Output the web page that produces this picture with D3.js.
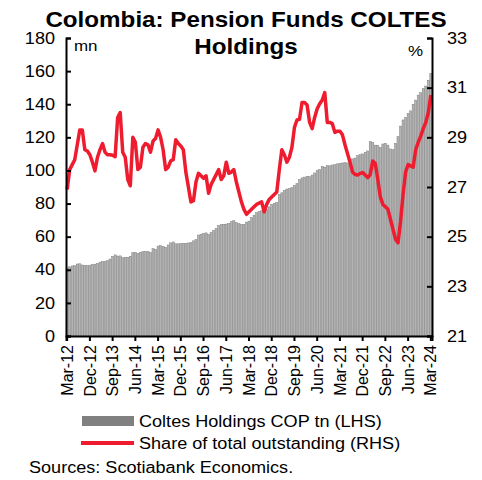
<!DOCTYPE html>
<html>
<head>
<meta charset="utf-8">
<script src="https://cdnjs.cloudflare.com/ajax/libs/d3/7.8.5/d3.min.js"></script>
<style>
  html, body { margin: 0; padding: 0; background: #fff; }
  svg { display: block; font-family: "Liberation Sans", Arial, sans-serif; }
</style>
</head>
<body>
<svg id="chart" width="482" height="480"></svg>
<script>
// Monthly observations, Mar-2012 through Mar-2024
const startYear = 2012, startMonth = 2; // March (0-based)

// Pension funds' COLTES holdings, COP tn (left axis)
const holdings = [
  41.0, 41.8, 42.3, 42.5, 43.5, 43.6, 42.9, 42.6, 42.5, 42.8,
  43.2, 43.4, 43.8, 44.6, 45.0, 45.0, 45.5, 46.5, 48.2, 49.0,
  48.3, 48.4, 47.3, 47.5, 47.6, 48.2, 50.3, 50.5, 49.9, 50.6,
  50.9, 51.0, 51.0, 50.5, 52.7, 52.3, 54.3, 54.6, 54.0, 53.6,
  55.0, 56.3, 56.8, 55.7, 55.7, 55.8, 56.0, 56.0, 56.2, 56.5,
  57.5, 58.2, 61.0, 61.5, 62.0, 62.3, 61.5, 62.5, 63.8, 65.0,
  66.8, 67.3, 67.5, 67.6, 68.0, 69.0, 69.6, 68.5, 67.8, 67.3,
  67.5, 68.8, 69.4, 71.5, 73.0, 74.5, 75.2, 75.6, 76.0, 76.5,
  78.0, 79.5, 80.2, 80.5, 85.5, 86.5, 88.0, 88.8, 89.0, 89.6,
  91.0, 92.0, 94.5, 95.5, 96.0, 96.5, 96.2, 97.2, 98.5, 100.0,
  100.5, 102.5, 102.0, 103.0, 102.8, 103.3, 103.5, 104.0, 104.3, 104.5,
  104.7, 104.5, 105.0, 107.0, 107.5, 109.0, 109.5, 110.0, 111.0, 111.8,
  117.4, 116.8, 115.3, 115.0, 113.9, 116.0, 116.4, 115.3, 113.0, 112.5,
  116.4, 120.4, 126.8, 130.5, 132.0, 134.5, 136.0, 140.0, 142.5, 145.5,
  147.0, 149.5, 151.0, 154.5, 158.6
];

// Share of total COLTES outstanding, % (right axis)
const share = [
  26.9, 27.7, 27.9, 28.1, 28.7, 29.3, 29.3, 28.5, 28.45, 28.3,
  28.0, 27.65, 28.2, 28.5, 28.75, 28.4, 28.3, 28.3, 28.28, 28.22,
  29.8, 30.0, 28.4, 28.2, 27.3, 27.05, 29.0, 28.8, 27.7, 27.8,
  28.6, 28.75, 28.7, 28.4, 28.85, 28.95, 29.3, 29.0, 28.5, 27.7,
  27.8, 28.05, 28.1, 28.9, 28.75, 28.65, 28.5, 27.6, 27.0, 26.4,
  26.45, 27.2, 27.55, 27.45, 27.35, 27.45, 26.75, 27.1, 27.3, 27.5,
  27.7, 27.3, 27.45, 28.0, 27.55, 27.6, 27.7, 27.2, 26.8, 26.4,
  26.1, 25.9, 26.0, 26.1, 26.2, 26.3, 26.35, 26.4, 26.0, 26.3,
  26.5, 26.6, 26.7, 26.8, 27.7, 28.5, 28.3, 28.0, 28.2, 28.6,
  29.4, 29.7, 29.73, 30.4, 30.4, 30.3, 29.6, 29.35, 29.8, 30.15,
  30.35, 30.5, 30.8, 29.6, 29.6, 29.55, 29.2, 29.25, 29.25, 29.1,
  28.7, 28.35, 28.0, 27.6, 27.5, 27.48, 27.55, 27.58, 27.48, 27.38,
  27.5, 28.05, 27.95, 27.3, 26.6, 26.3, 26.2, 26.1, 25.7, 25.3,
  24.9, 24.75, 25.6, 26.7, 27.6, 27.9, 27.85, 27.8, 28.5, 28.8,
  29.05, 29.35, 29.6, 30.0, 30.7
];

const leftTicks = [0, 20, 40, 60, 80, 100, 120, 140, 160, 180];
const rightTicks = [21, 23, 25, 27, 29, 31, 33];
const tickEvery = 9; // a date label every nine months

const monthNames = ["Jan","Feb","Mar","Apr","May","Jun","Jul","Aug","Sep","Oct","Nov","Dec"];
const labels = holdings.map((_, i) => {
  const m = startMonth + i;
  const y = startYear + Math.floor(m / 12);
  return monthNames[m % 12] + "-" + String(y).slice(2);
});
const xTickLabels = labels.filter((_, i) => i % tickEvery === 0);

const svg = d3.select("#chart");
const red = "#ee1c2e";
const sx = 1.13; // horizontal widening applied to the text glyphs
const W = 482, H = 480;
const plotL = 66, plotR = 432, plotT = 38, plotB = 336;

const x = d3.scaleBand().domain(labels).range([plotL, plotR]).paddingInner(0.18).paddingOuter(0.05);
const xc = d => x(d) + x.bandwidth() / 2;
const yL = d3.scaleLinear().domain([0, 180]).range([plotB, plotT]);
const yR = d3.scaleLinear().domain([21, 33]).range([plotB, plotT]);

// Place a text item with its glyphs widened horizontally
function label(parent, px, py, str, size, opts = {}) {
  const g = parent.append("g").attr("transform", `translate(${px},${py})`);
  const t = g.append("text")
    .attr("transform", `scale(${opts.scale || sx},1)`)
    .attr("text-anchor", opts.anchor || "start")
    .style("font-size", size + "px")
    .attr("fill", "#000")
    .text(str);
  if (opts.bold) t.style("font-weight", "bold");
  return t;
}

// Bars: holdings
svg.append("g").selectAll("rect").data(holdings).join("rect")
  .attr("x", (d, i) => x(labels[i]))
  .attr("y", d => yL(d))
  .attr("width", x.bandwidth())
  .attr("height", d => yL(0) - yL(d))
  .attr("fill", "#b3b3b3")
  .attr("stroke", "#7a7a7a")
  .attr("stroke-width", 0.45);

// Line: share of total outstanding
const line = d3.line().x((d, i) => xc(labels[i])).y(d => yR(d));
svg.append("path").datum(share)
  .attr("d", line)
  .attr("fill", "none")
  .attr("stroke", red)
  .attr("stroke-width", 3.5)
  .attr("stroke-linejoin", "round");

// Axes
const axL = svg.append("g").attr("transform", `translate(${plotL},0)`)
  .call(d3.axisLeft(yL).tickValues(leftTicks).tickSize(-5).tickPadding(11));
const axR = svg.append("g").attr("transform", `translate(${plotR},0)`)
  .call(d3.axisRight(yR).tickValues(rightTicks).tickSize(-5).tickPadding(15));
const axB = svg.append("g").attr("transform", `translate(0,${plotB})`)
  .call(d3.axisBottom(x).tickValues(xTickLabels).tickSize(5).tickPadding(4));

[axL, axR, axB].forEach(g => {
  g.select(".domain").attr("stroke", "#000").attr("stroke-width", 2);
  g.selectAll(".tick line").attr("stroke", "#000").attr("stroke-width", 2);
  g.selectAll("text").attr("fill", "#000").style("font-size", "16px")
    .style("font-family", "'Liberation Sans', Arial, sans-serif");
});
[axL, axR].forEach(g => {
  g.selectAll(".tick text").each(function () {
    const t = d3.select(this);
    t.attr("x", +t.attr("x") / sx).attr("transform", `scale(${sx},1)`);
  });
});
axB.selectAll(".tick text")
  .attr("transform", "rotate(-90)")
  .attr("text-anchor", "end")
  .attr("x", -9).attr("y", 0)
  .attr("dy", "0.35em");

// Unit labels
label(svg, 74, 51, "mn", 15);
label(svg, 408, 56, "%", 15);

// Title
label(svg, 246, 27, "Colombia: Pension Funds COLTES", 22, { anchor: "middle", bold: true, scale: 1.1 });
label(svg, 246, 54, "Holdings", 22, { anchor: "middle", bold: true, scale: 1.1 });

// Legend
svg.append("rect").attr("x", 82).attr("y", 416).attr("width", 52).attr("height", 10).attr("fill", "#808080");
label(svg, 139, 427, "Coltes Holdings COP tn (LHS)", 16);
svg.append("line").attr("x1", 81).attr("x2", 134).attr("y1", 443).attr("y2", 443)
  .attr("stroke", red).attr("stroke-width", 4);
label(svg, 139, 449, "Share of total outstanding (RHS)", 16);

// Source note
label(svg, 29, 473, "Sources: Scotiabank Economics.", 16);
</script>
</body>
</html>
